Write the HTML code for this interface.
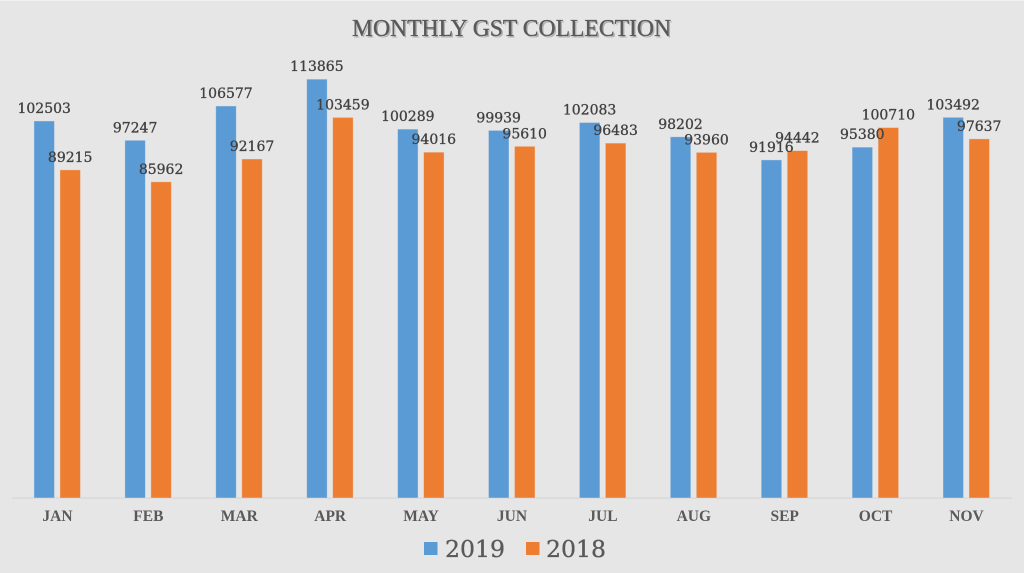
<!DOCTYPE html>
<html><head><meta charset="utf-8"><style>
html,body{margin:0;padding:0;background:#e7e6e6;}
svg{display:block;}
</style></head><body>
<svg width="1024" height="573" viewBox="0 0 1024 573" xmlns="http://www.w3.org/2000/svg">
<rect x="0" y="0" width="1024" height="573" fill="#e7e6e6"/>
<rect x="0" y="0" width="1024" height="1" fill="#f2f2f2"/>
<!-- title -->
<text x="513" y="37.5" text-anchor="middle" font-family="Liberation Serif, serif" font-size="24" fill="#b0b0b0" textLength="319" lengthAdjust="spacingAndGlyphs">MONTHLY GST COLLECTION</text>
<text x="511.5" y="36" text-anchor="middle" font-family="Liberation Serif, serif" font-size="24" fill="#595959" stroke="#595959" stroke-width="0.3" textLength="319" lengthAdjust="spacingAndGlyphs">MONTHLY GST COLLECTION</text>
<!-- axis -->
<rect x="12" y="497.5" width="1000" height="1.2" fill="#d6d6d6"/>
<g stroke="#e7e6e6" stroke-opacity="0.5" stroke-width="0.8">
<g fill="#5b9bd5">
<rect x="33.95" y="120.96" width="20.5" height="377.04"/>
<rect x="124.86" y="140.29" width="20.5" height="357.71"/>
<rect x="215.77" y="105.98" width="20.5" height="392.02"/>
<rect x="306.68" y="79.17" width="20.5" height="418.83"/>
<rect x="397.59" y="129.11" width="20.5" height="368.89"/>
<rect x="488.5" y="130.39" width="20.5" height="367.61"/>
<rect x="579.4" y="122.51" width="20.5" height="375.49"/>
<rect x="670.3" y="136.78" width="20.5" height="361.22"/>
<rect x="761.2" y="159.9" width="20.5" height="338.1"/>
<rect x="852.1" y="147.16" width="20.5" height="350.84"/>
<rect x="943.0" y="117.33" width="20.5" height="380.67"/>
</g>
<g fill="#ed7d31">
<rect x="59.95" y="169.84" width="20.5" height="328.16"/>
<rect x="150.86" y="181.81" width="20.5" height="316.19"/>
<rect x="241.77" y="158.98" width="20.5" height="339.02"/>
<rect x="332.68" y="117.45" width="20.5" height="380.55"/>
<rect x="423.59" y="152.18" width="20.5" height="345.82"/>
<rect x="514.5" y="146.32" width="20.5" height="351.68"/>
<rect x="605.4" y="143.11" width="20.5" height="354.89"/>
<rect x="696.3" y="152.39" width="20.5" height="345.61"/>
<rect x="787.2" y="150.61" width="20.5" height="347.39"/>
<rect x="878.1" y="127.56" width="20.5" height="370.44"/>
<rect x="969.0" y="138.86" width="20.5" height="359.14"/>
</g>
</g>
<!-- data labels -->
<g font-family="DejaVu Serif, Liberation Serif, serif" font-size="14" fill="#404040" stroke="#404040" stroke-width="0.3" text-anchor="middle">
<text x="44.2" y="113">102503</text>
<text x="135.1" y="132.3">97247</text>
<text x="226" y="98">106577</text>
<text x="316.9" y="71.2">113865</text>
<text x="407.8" y="121.1">100289</text>
<text x="498.7" y="122.4">99939</text>
<text x="589.6" y="114.5">102083</text>
<text x="680.5" y="128.8">98202</text>
<text x="771.4" y="151.9">91916</text>
<text x="862.3" y="139.2">95380</text>
<text x="953.2" y="109.3">103492</text>
<text x="70.2" y="161.8">89215</text>
<text x="161.1" y="173.8">85962</text>
<text x="252" y="151">92167</text>
<text x="342.9" y="109.5">103459</text>
<text x="433.8" y="144.2">94016</text>
<text x="524.7" y="138.3">95610</text>
<text x="615.6" y="135.1">96483</text>
<text x="706.5" y="144.4">93960</text>
<text x="797.4" y="142.6">94442</text>
<text x="888.3" y="119.6">100710</text>
<text x="979.2" y="130.9">97637</text>
</g>
<!-- category labels -->
<g font-family="Liberation Serif, serif" font-size="15.5" font-weight="bold" fill="#595959" text-anchor="middle">
<text x="57.45" y="521">JAN</text>
<text x="148.36" y="521">FEB</text>
<text x="239.27" y="521">MAR</text>
<text x="330.18" y="521">APR</text>
<text x="421.09" y="521">MAY</text>
<text x="512" y="521">JUN</text>
<text x="602.9" y="521">JUL</text>
<text x="693.8" y="521">AUG</text>
<text x="784.7" y="521">SEP</text>
<text x="875.6" y="521">OCT</text>
<text x="966.5" y="521">NOV</text>
</g>
<!-- legend -->
<rect x="424" y="542" width="13.5" height="13" fill="#5b9bd5"/>
<text x="445" y="557" font-family="DejaVu Serif, Liberation Serif, serif" font-size="23" fill="#595959" stroke="#595959" stroke-width="0.3" textLength="60" lengthAdjust="spacingAndGlyphs">2019</text>
<rect x="526" y="542" width="13.5" height="13" fill="#ed7d31"/>
<text x="546" y="557" font-family="DejaVu Serif, Liberation Serif, serif" font-size="23" fill="#595959" stroke="#595959" stroke-width="0.3" textLength="60" lengthAdjust="spacingAndGlyphs">2018</text>
</svg>
</body></html>
